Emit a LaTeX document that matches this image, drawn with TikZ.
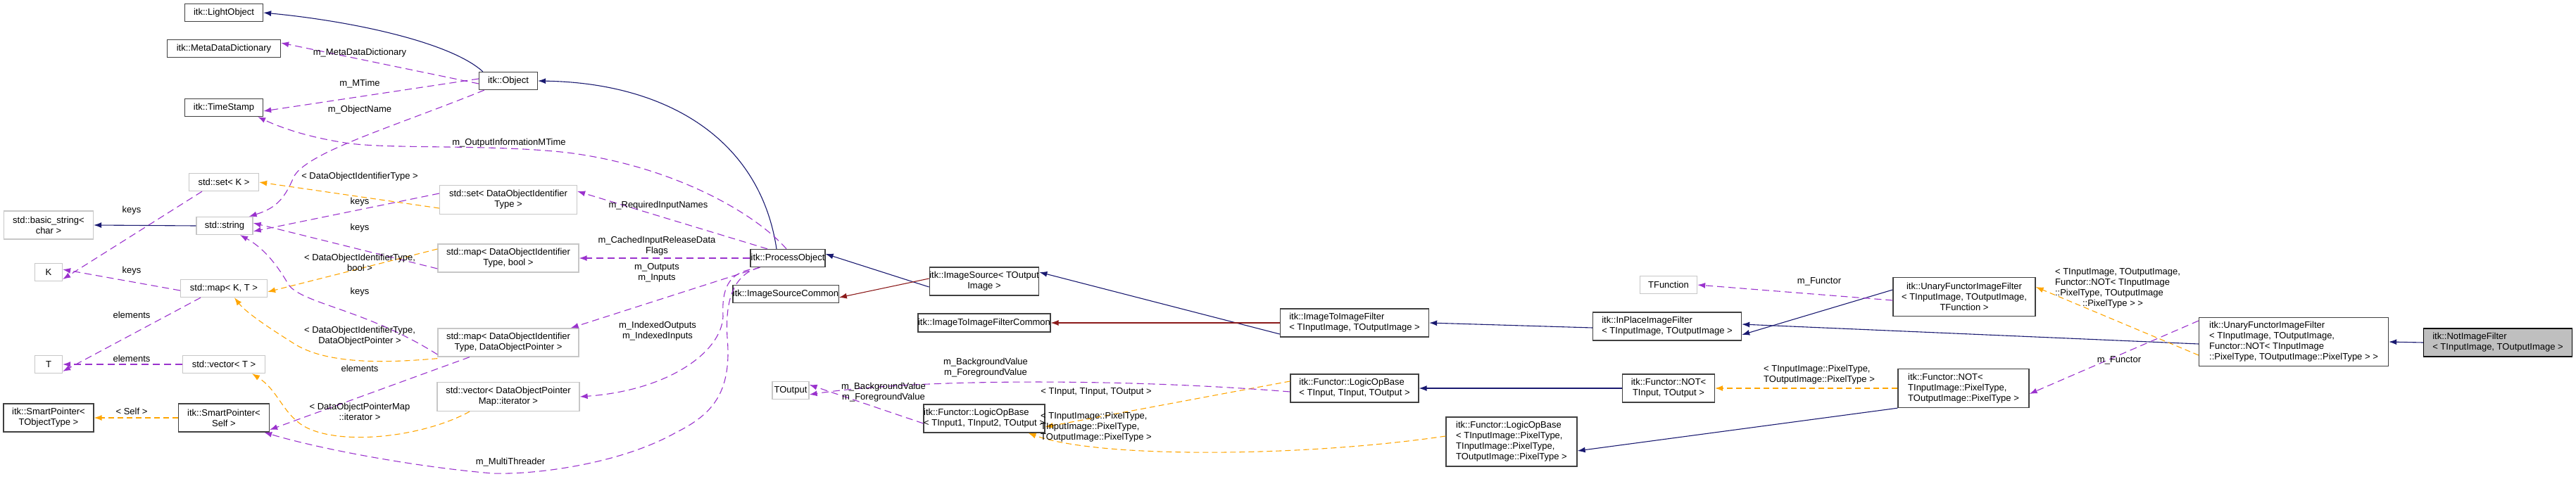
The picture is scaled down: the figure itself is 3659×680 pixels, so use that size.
\documentclass[tikz,border=0pt]{standalone}
\usepackage{fontspec}
\setmainfont{Liberation Sans}
\usetikzlibrary{arrows.meta}
\definecolor{navy}{RGB}{25,25,112}
\definecolor{dred}{RGB}{139,26,26}
\definecolor{orng}{RGB}{255,165,0}
\definecolor{purp}{RGB}{154,50,205}
\begin{document}
\begin{tikzpicture}[x=1pt,y=-1pt,
 every node/.style={font=\fontsize{13}{15}\selectfont, inner sep=0pt, align=center},
 cls/.style={draw=black!75, line width=1.3pt, fill=white},
 ext/.style={draw=black!22, line width=1.3pt, fill=white},
 tip/.style={-{Latex[length=11pt,width=8pt]}},
 inh/.style={tip, draw=navy, line width=1.1pt},
 prv/.style={tip, draw=dred, line width=1.1pt},
 tpl/.style={tip, draw=orng, line width=1.1pt, dash pattern=on 8pt off 5pt},
 use/.style={tip, draw=purp, line width=1.1pt, dash pattern=on 10pt off 6pt},
 lbl/.style={fill=none}]
\useasboundingbox (0,0) rectangle (3659,680);
% ---------- nodes ----------
\node[cls, minimum width=111pt, minimum height=25pt] (light) at (318,18) {itk::LightObject};
\node[cls, minimum width=161pt, minimum height=25pt] (meta) at (318,69) {itk::MetaDataDictionary};
\node[cls, minimum width=111pt, minimum height=25pt] (ts) at (318,153) {itk::TimeStamp};
\node[ext, minimum width=99pt, minimum height=25pt] (setK) at (318,259) {std::set< K >};
\node[ext, minimum width=127pt, minimum height=40pt] (bstr) at (69,320) {std::basic\_string<\\char >};
\node[ext, minimum width=80pt, minimum height=25pt] (str) at (319,321) {std::string};
\node[ext, minimum width=39pt, minimum height=25pt] (K) at (69,387) {K};
\node[ext, minimum width=123pt, minimum height=25pt] (mapKT) at (318,410) {std::map< K, T >};
\node[ext, minimum width=39pt, minimum height=25pt] (T) at (69,518) {T};
\node[ext, minimum width=117pt, minimum height=25pt] (vecT) at (318,518) {std::vector< T >};
\node[cls, minimum width=128pt, minimum height=40pt] (spT) at (69,594) {itk::SmartPointer<\\TObjectType >};
\node[cls, minimum width=129pt, minimum height=40pt] (spS) at (318,594) {itk::SmartPointer<\\Self >};
\node[cls, minimum width=83pt, minimum height=25pt] (obj) at (722,115) {itk::Object};
\node[ext, minimum width=195pt, minimum height=41pt] (setD) at (722,284) {std::set< DataObjectIdentifier\\Type >};
\node[ext, minimum width=200pt, minimum height=40pt] (mapB) at (722,367) {std::map< DataObjectIdentifier\\Type, bool >};
\node[ext, minimum width=200pt, minimum height=40pt] (mapP) at (722,487) {std::map< DataObjectIdentifier\\Type, DataObjectPointer >};
\node[ext, minimum width=202pt, minimum height=41pt] (vecP) at (722,564) {std::vector< DataObjectPointer\\Map::iterator >};
\node[cls, minimum width=106pt, minimum height=25pt] (po) at (1119,367) {itk::ProcessObject};
\node[cls, minimum width=144pt, minimum height=25pt] (isc) at (1116,418) {itk::ImageSourceCommon};
\node[ext, minimum width=52pt, minimum height=25pt] (tout) at (1123,555) {TOutput};
\node[cls, minimum width=135pt, minimum height=40pt] (is) at (1398,400) {itk::ImageSource< TOutput\\Image >};
\node[cls, minimum width=159pt, minimum height=26pt] (i2ic) at (1398,459) {itk::ImageToImageFilterCommon};
\node[cls, minimum width=147pt, minimum height=40pt, align=left] (lobI) at (1398,595) {itk::Functor::LogicOpBase\\< TInput1, TInput2, TOutput >};
\node[cls, minimum width=211pt, minimum height=40pt, align=left] (i2i) at (1924,459) {itk::ImageToImageFilter\\< TInputImage, TOutputImage >};
\node[cls, minimum width=211pt, minimum height=40pt, align=left] (inp) at (2368,464) {itk::InPlaceImageFilter\\< TInputImage, TOutputImage >};
\node[ext, minimum width=81pt, minimum height=25pt] (tfn) at (2370,405) {TFunction};
\node[cls, minimum width=182pt, minimum height=40pt, align=left] (lobT) at (1924,552) {itk::Functor::LogicOpBase\\< TInput, TInput, TOutput >};
\node[cls, minimum width=131pt, minimum height=40pt] (notT) at (2370,552) {itk::Functor::NOT<\\TInput, TOutput >};
\node[cls, minimum width=186pt, minimum height=70pt, align=left] (lobP) at (2147,628) {itk::Functor::LogicOpBase\\< TInputImage::PixelType,\\ TInputImage::PixelType,\\ TOutputImage::PixelType >};
\node[cls, minimum width=202pt, minimum height=55pt] (ufT) at (2790,422) {itk::UnaryFunctorImageFilter\\< TInputImage, TOutputImage,\\TFunction >};
\node[cls, minimum width=269pt, minimum height=69pt, align=left] (ufN) at (3258,486) {itk::UnaryFunctorImageFilter\\< TInputImage, TOutputImage,\\ Functor::NOT< TInputImage\\::PixelType, TOutputImage::PixelType > >};
\node[cls, minimum width=186pt, minimum height=55pt, align=left] (notP) at (2789,552) {itk::Functor::NOT<\\ TInputImage::PixelType,\\ TOutputImage::PixelType >};
\node[draw=black, line width=1.3pt, fill=black!25, minimum width=211pt, minimum height=40pt, align=left] (nif) at (3548,487) {itk::NotImageFilter\\< TInputImage, TOutputImage >};
% ---------- connectors ----------
\draw[inh] (obj.160) .. controls (640,60) and (500,30) .. (light.east);
\draw[inh] ([xshift=-16pt]po.north) .. controls (1080,200) and (950,118) .. (obj.east);
\draw[use] ([yshift=-4pt]obj.west) -- ([yshift=8pt]meta.east);
\node[lbl] (l1) at (511,75) {m\_MetaDataDictionary};
\draw[use] ([yshift=3pt]obj.west) -- ([yshift=-5pt]ts.east);
\node[lbl] (l2) at (511,119) {m\_MTime};
\draw[use] ([xshift=8pt]obj.south west) .. controls (560,180) and (440,215) .. (418,250) .. controls (405,280) and (395,295) .. ([xshift=-6pt]str.north east);
\node[lbl] (l3) at (511,156) {m\_ObjectName};
\draw[use] ([xshift=-2pt]po.north) .. controls (1070,300) and (950,235) .. (806,217) .. controls (700,205) and (560,212) .. (497,204) .. controls (440,196) and (400,182) .. ([xshift=-8pt]ts.south east);
\node[lbl] (l4) at (723,203) {m\_OutputInformationMTime};
\draw[use] ([xshift=-29pt]po.north) -- ([yshift=12pt]setD.east);
\node[lbl] (l5) at (935,292) {m\_RequiredInputNames};
\draw[use] (po.west) -- (mapB.east);
\node[lbl] (l6) at (933,350) {m\_CachedInputReleaseData\\Flags};
\draw[use] ([xshift=14pt]po.south west) -- ([xshift=-12pt]mapP.north east);
\node[lbl] (l7) at (933,388) {m\_Outputs\\m\_Inputs};
\draw[use] ([yshift=-3pt]po.south west) .. controls (1035,390) and (1025,410) .. (1027,450) .. controls (1025,500) and (950,555) .. (vecP.east);
\node[lbl] (l8) at (934,471) {m\_IndexedOutputs\\m\_IndexedInputs};
\draw[use] ([xshift=14pt]po.south west) .. controls (1040,390) and (1030,430) .. (1033,480) .. controls (1040,560) and (1010,590) .. (960,615) .. controls (880,660) and (760,675) .. (700,673) .. controls (600,665) and (460,640) .. ([xshift=-8pt]spS.south east);
\node[lbl] (l9) at (725,657) {m\_MultiThreader};
\draw[tpl] ([yshift=-12pt]setD.west) -- (setK.east);
\node[lbl] (l10) at (511,251) {< DataObjectIdentifierType >};
\draw[use] ([yshift=9pt]setD.west) -- ([yshift=-8pt]str.east);
\node[lbl] (l11) at (511,287) {keys};
\draw[use] ([yshift=-15pt]mapB.west) -- ([yshift=4pt]str.east);
\node[lbl] (l12) at (511,324) {keys};
\draw[tpl] ([yshift=13pt]mapB.west) -- ([yshift=-5pt]mapKT.east);
\node[lbl] (l13) at (511,373) {< DataObjectIdentifierType,\\bool >};
\draw[use] ([yshift=-17pt]mapP.west) .. controls (520,440) and (430,432) .. (410,405) .. controls (390,370) and (370,350) .. ([xshift=22pt]str.south);
\node[lbl] (l14) at (511,415) {keys};
\draw[tpl] ([yshift=-2pt]mapP.south west) .. controls (560,515) and (470,520) .. (420,490) .. controls (385,468) and (350,445) .. ([xshift=15pt]mapKT.south);
\node[lbl] (l15) at (511,478) {< DataObjectIdentifierType,\\DataObjectPointer >};
\draw[use] ([xshift=-55pt]mapP.south) -- ([yshift=-17pt]spS.east);
\node[lbl] (l16) at (511,524) {elements};
\draw[tpl] ([xshift=-55pt]vecP.south) .. controls (600,622) and (480,635) .. (430,605) .. controls (400,585) and (395,555) .. ([xshift=40pt]vecT.south);
\node[lbl] (l17) at (511,585) {< DataObjectPointerMap\\::iterator >};
\draw[tpl] (spS.west) -- (spT.east);
\node[lbl] (l18) at (187,585) {< Self >};
\draw[use] ([xshift=-31pt]setK.south) -- ([yshift=-10pt]K.east);
\node[lbl] (l19) at (187,299) {keys};
\draw[inh] (str.west) -- (bstr.east);
\draw[use] ([yshift=-3pt]mapKT.west) -- ([yshift=4pt]K.east);
\node[lbl] (l20) at (187,385) {keys};
\draw[use] ([xshift=-33pt]mapKT.south) -- ([yshift=-10pt]T.east);
\node[lbl] (l21) at (187,448) {elements};
\draw[use] (vecT.west) -- (T.east);
\node[lbl] (l22) at (187,510) {elements};
% right part
\draw[inh] ([yshift=-8pt]is.west) -- ([yshift=6pt]po.east);
\draw[prv] ([yshift=4pt]is.west) -- ([yshift=-5pt]isc.east);
\draw[inh] ([yshift=-16pt]i2i.west) -- ([yshift=13pt]is.east);
\draw[prv] (i2i.west) -- (i2ic.east);
\draw[inh] ([yshift=-2pt]inp.west) -- (i2i.east);
\draw[inh] ([yshift=10pt]ufT.west) -- ([yshift=-12pt]inp.east);
\draw[inh] ([yshift=-3pt]ufN.west) -- ([yshift=3pt]inp.east);
\draw[inh] (nif.west) -- (ufN.east);
\draw[use] ([yshift=-5pt]ufT.west) -- (tfn.east);
\node[lbl] (l23) at (2584,400) {m\_Functor};
\draw[tpl] ([yshift=-19pt]ufN.west) -- ([yshift=14pt]ufT.east);
\node[lbl, align=left] (l24) at (3008,410) {< TInputImage, TOutputImage,\\Functor::NOT< TInputImage\\::PixelType, TOutputImage\\\hspace*{3em}::PixelType > >};
\draw[use] ([yshift=30pt]ufN.west) -- ([yshift=-8pt]notP.east);
\node[lbl] (l25) at (3010,512) {m\_Functor};
\draw[tpl] (notP.west) -- (notT.east);
\node[lbl, align=left] (l26) at (2584,533) {< TInputImage::PixelType,\\TOutputImage::PixelType >};
\draw[inh] (notP.south west) -- ([yshift=-13pt]lobP.east);
\draw[inh] (notT.west) -- (lobT.east);
\draw[tpl] ([yshift=10pt]lobT.west) -- ([yshift=-12pt]lobI.east);
\node[lbl] (l27) at (1557,557) {< TInput, TInput, TOutput >};
\draw[tpl] ([yshift=8pt]lobP.west) .. controls (1850,650) and (1560,652) .. ([xshift=-24pt]lobI.south east);
\node[lbl, align=left] (l28) at (1557,607) {< TInputImage::PixelType,\\TInputImage::PixelType,\\TOutputImage::PixelType >};
\draw[use] ([yshift=-5pt]lobT.west) .. controls (1600,538) and (1300,538) .. ([yshift=-6pt]tout.east);
\node[lbl] (l29) at (1400,523) {m\_BackgroundValue\\m\_ForegroundValue};
\draw[use] ([yshift=-7pt]lobI.west) -- ([yshift=8pt]tout.east);
\node[lbl] (l30) at (1255,558) {m\_BackgroundValue\\m\_ForegroundValue};
\end{tikzpicture}
\end{document}
